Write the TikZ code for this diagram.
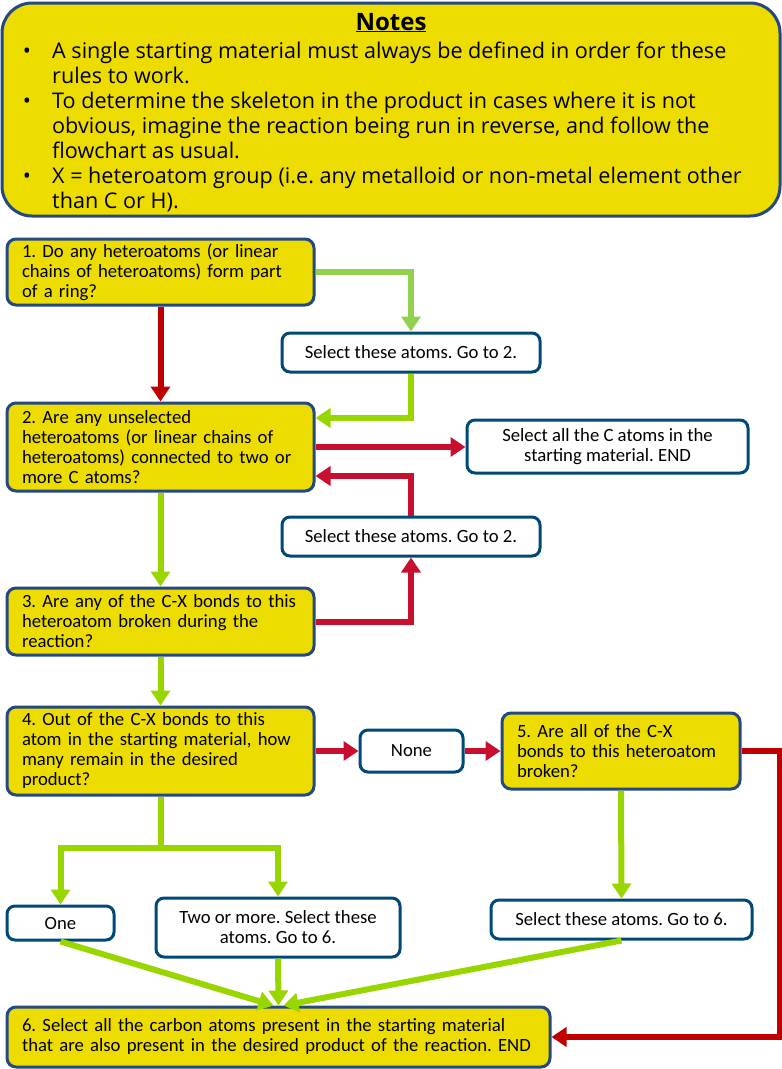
\documentclass[tikz,border=0pt]{standalone}
\usepackage{fontspec}
\setmainfont{Carlito}
\newfontfamily\notesfont{Open Sans}
\usetikzlibrary{arrows.meta}
\definecolor{boxyellow}{RGB}{237,220,0}
\definecolor{boxblue}{RGB}{36,72,130}
\definecolor{wblue}{RGB}{0,72,120}
\definecolor{redA}{RGB}{200,16,46}
\definecolor{redB}{RGB}{192,0,0}
\definecolor{greenA}{RGB}{153,214,0}
\definecolor{greenB}{RGB}{146,208,80}
\frenchspacing
\begin{document}
\begin{tikzpicture}[x=1pt,y=-1pt,
  ybox/.style={draw=boxblue, fill=boxyellow, line width=3pt, rounded corners=9pt,
    align=left, inner xsep=0pt, inner ysep=0pt, font=\fontsize{18.7}{20}\selectfont\frenchspacing},
  wbox/.style={draw=wblue, fill=white, line width=3pt, rounded corners=8pt,
    align=center, inner sep=0pt, font=\fontsize{18.7}{20}\selectfont\frenchspacing},
  conn/.style={line width=6pt, -{Triangle[width=19pt,length=15pt]}},
  plain/.style={line width=6pt},
  notetext/.style={anchor=base west, align=left, inner sep=0pt,
    font=\notesfont\fontsize{21.6}{25}\selectfont\frenchspacing},
  bul/.style={anchor=base, inner sep=0pt, font=\notesfont\fontsize{21.6}{25}\selectfont}
]
\useasboundingbox (0,0) rectangle (782,1069);

% Notes panel
\node[draw=boxblue, fill=boxyellow, line width=3pt, rounded corners=30pt,
  minimum width=778pt, minimum height=213pt] (notes) at (391,109.5) {};
\node[anchor=base, inner sep=0pt, font=\notesfont\bfseries\fontsize{24}{28}\selectfont]
  (title) at (391,30) {\underline{Notes}};
\node[bul] (b1) at (27,58) {•};
\node[bul] (b2) at (27,108) {•};
\node[bul] (b3) at (27,183) {•};
\node[notetext] (t1) at (52,83) {A single starting material must always be defined in order for these\\rules to work.};
\node[notetext] (t2) at (52,158) {To determine the skeleton in the product in cases where it is not\\obvious, imagine the reaction being run in reverse, and follow the\\flowchart as usual.};
\node[notetext] (t3) at (52,208) {X = heteroatom group (i.e. any metalloid or non-metal element other\\than C or H).};

% Flowchart boxes
\node[ybox, minimum width=307pt, minimum height=66pt, text width=277pt] (n1) at (160.5,272)
  {1. Do any heteroatoms (or linear\\chains of heteroatoms) form part\\of a ring?};
\node[wbox, minimum width=258pt, minimum height=39pt] (sa) at (411,352.5)
  {Select these atoms. Go to 2.};
\node[ybox, minimum width=307pt, minimum height=88pt, text width=277pt] (n2) at (160.5,447)
  {2. Are any unselected\\heteroatoms (or linear chains of\\heteroatoms) connected to two or\\more C atoms?};
\node[wbox, minimum width=281pt, minimum height=53pt] (sc) at (607.5,446.5)
  {Select all the C atoms in the\\starting material. END};
\node[wbox, minimum width=258pt, minimum height=39pt] (sb) at (411,536.5)
  {Select these atoms. Go to 2.};
\node[ybox, minimum width=307pt, minimum height=67pt, text width=277pt] (n3) at (160.5,621.5)
  {3. Are any of the C-X bonds to this\\heteroatom broken during the\\reaction?};
\node[ybox, minimum width=307pt, minimum height=88pt, text width=277pt] (n4) at (160.5,751)
  {4. Out of the C-X bonds to this\\atom in the starting material, how\\many remain in the desired\\product?};
\node[wbox, minimum width=103pt, minimum height=42pt] (none) at (411.5,751) {None};
\node[ybox, minimum width=238pt, minimum height=76pt, text width=208pt] (n5) at (621,751)
  {5. Are all of the C-X\\bonds to this heteroatom\\broken?};
\node[wbox, minimum width=107pt, minimum height=34pt] (one) at (60.5,923) {One};
\node[wbox, minimum width=244pt, minimum height=59pt] (two) at (278,927.5)
  {Two or more. Select these\\atoms. Go to 6.};
\node[wbox, minimum width=261pt, minimum height=39pt] (s6) at (621.5,919.5)
  {Select these atoms. Go to 6.};
\node[ybox, minimum width=543pt, minimum height=60pt, text width=513pt] (n6) at (278.5,1037)
  {6. Select all the carbon atoms present in the starting material\\that are also present in the desired product of the reaction. END};

% Connectors
\coordinate (br) at (160.5,848);
\draw[conn, greenB] (n1.east) -| (sa.north);
\draw[conn, redB] (n1.south) -- (n2.north);
\draw[conn, greenA] (sa.south) |- ([yshift=29pt]n2.east);
\draw[conn, redA] (n2.east) -- (n2.east -| sc.west);
\draw[conn, redA] (sb.north) |- ([yshift=-29pt]n2.east);
\draw[conn, greenA] (n2.south) -- (n3.north);
\draw[conn, redA] (n3.east) -| (sb.south);
\draw[conn, greenA] (n3.south) -- (n4.north);
\draw[conn, redA] (n4.east) -- (none.west);
\draw[conn, redA] (none.east) -- (n5.west);
\draw[conn, redB] (n5.east) -- ++(38,0) |- (n6.east);
\draw[conn, greenA] (n5.south) -- (s6.north);
\draw[plain, greenA] (n4.south) -- (br);
\draw[conn, greenA] (br) -| (one.north);
\draw[conn, greenA] (br) -| (two.north);
\draw[conn, greenA] (one.south) -- ([xshift=-5pt]n6.north);
\draw[conn, greenA] (two.south) -- (n6.north);
\draw[conn, greenA] (s6.south) -- ([xshift=5pt]n6.north);
\end{tikzpicture}
\end{document}
